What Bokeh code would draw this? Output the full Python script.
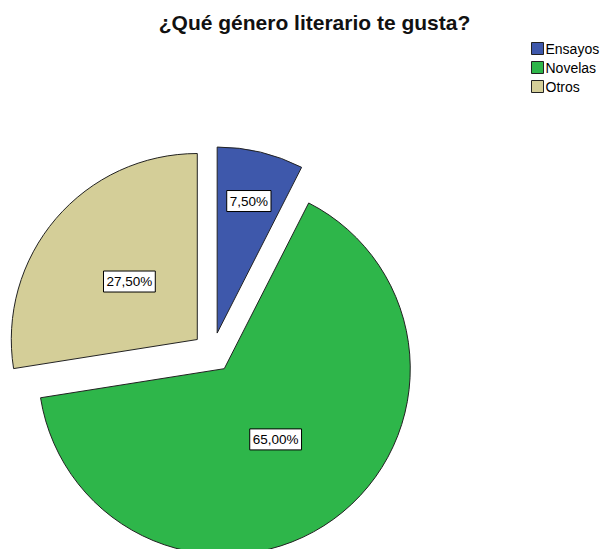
import math
from bokeh.plotting import figure
from bokeh.models import Range1d, ColumnDataSource
from bokeh.core.properties import value
from bokeh.embed import file_html
from bokeh.resources import INLINE

# ---- data ----
categories = ["Ensayos", "Novelas", "Otros"]
percentages = [7.5, 65.0, 27.5]
colors = ["#3E58AB", "#2EB64A", "#D4CE98"]
title_text = "¿Qué género literario te gusta?"

# ---- layout constants (screen px) ----
W, H = 604, 549
CX, CY = 212, 352          # pie centre (screen coords)
R = 186                    # radius
EXPLODE = 20               # explode distance
label_frac = [0.73, 0.47, 0.48]

p = figure(width=W, height=H, output_backend="svg", toolbar_location=None,
           x_range=Range1d(0, W), y_range=Range1d(-H, 0),
           min_border=0)
p.axis.visible = False
p.grid.visible = False
p.outline_line_color = None
p.background_fill_color = "white"
p.border_fill_color = "white"

total = sum(percentages)
xs, ys, starts, ends, lx, ly, ltxt = [], [], [], [], [], [], []
cum = 0.0
for v, f in zip(percentages, label_frac):
    t0 = cum / total * 2 * math.pi
    t1 = (cum + v) / total * 2 * math.pi
    tm = (t0 + t1) / 2
    cum += v
    ax = CX + EXPLODE * math.sin(tm)
    ay = -CY + EXPLODE * math.cos(tm)
    xs.append(ax); ys.append(ay)
    starts.append(math.pi / 2 - t0)
    ends.append(math.pi / 2 - t1)
    lx.append(ax + f * R * math.sin(tm))
    ly.append(ay + f * R * math.cos(tm))
    ltxt.append(f"{v:.2f}".replace(".", ",") + "%")

src = ColumnDataSource(dict(x=xs, y=ys, s=starts, e=ends, c=colors))
p.wedge(x="x", y="y", radius=R, start_angle="s", end_angle="e", direction="clock",
        fill_color="c", line_color="#222222", line_width=1, source=src)

lsrc = ColumnDataSource(dict(x=lx, y=ly, t=ltxt))
p.text(x="x", y="y", text="t", source=lsrc, text_align="center", text_baseline="middle",
       text_font=value("Liberation Sans"), text_font_size="13.5px", text_color="black",
       background_fill_color="white", border_line_color="black", border_line_width=1,
       padding=3)

# title
p.text(x=[314], y=[-22], text=[title_text], text_align="center", text_baseline="middle",
       text_font=value("Liberation Sans"), text_font_size="21px", text_font_style="bold",
       text_color="#111111")

# legend
leg_y = [-48 - 19 * i for i in range(len(categories))]
p.rect(x=[537] * len(categories), y=leg_y, width=12, height=12, fill_color=colors,
       line_color="#222222", line_width=1)
p.text(x=[545] * len(categories), y=leg_y, text=categories, text_align="left",
       text_baseline="middle", text_font=value("Liberation Sans"), text_font_size="14px",
       text_color="black")

open("out.html", "w").write(file_html(p, INLINE))
